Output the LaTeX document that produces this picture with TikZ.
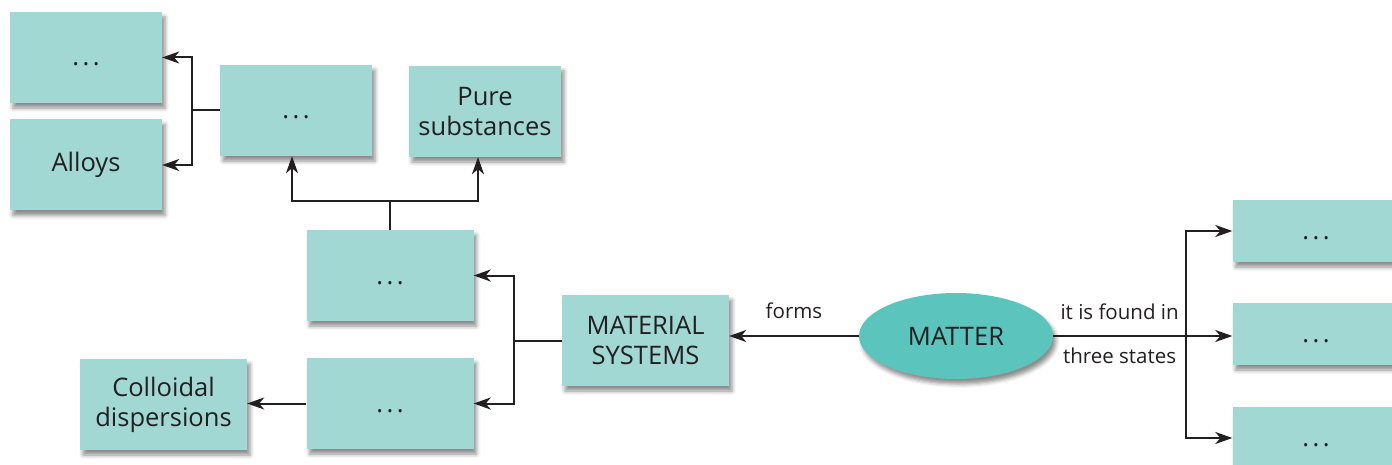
\documentclass[tikz,border=0pt]{standalone}
\usepackage{fontspec}
\setmainfont{Open Sans}
\usetikzlibrary{arrows.meta,shapes.geometric,shadows.blur}
\definecolor{boxfill}{HTML}{A1D8D4}
\definecolor{ovalfill}{HTML}{5BC4BC}
\definecolor{ink}{HTML}{231F20}
\newcommand{\gap}{.\hspace{3.5pt}.\hspace{3.5pt}.}
\begin{document}
\begin{tikzpicture}[x=1pt,y=-1pt,
  box/.style={fill=boxfill,minimum width=152pt,minimum height=91pt,align=center,text=ink,
    font=\fontsize{25.5}{30}\selectfont,
    blur shadow={shadow xshift=3pt,shadow yshift=-5pt,shadow blur radius=4pt,shadow opacity=45}},
  wide/.style={box,minimum width=167pt},
  slim/.style={wide,minimum height=62pt},
  blank/.style={text height=17pt,text depth=0pt},
  oval/.style={ellipse,fill=ovalfill,minimum width=194pt,minimum height=86pt,text=ink,
    font=\fontsize{25.5}{30}\selectfont,
    blur shadow={shadow xshift=3pt,shadow yshift=-5pt,shadow blur radius=4pt,shadow opacity=45}},
  lbl/.style={text=ink,font=\fontsize{20.5}{24}\selectfont},
  wire/.style={draw=ink,line width=2pt},
  arr/.style={wire,-{Stealth[length=17pt,width=12pt,inset=5pt]}}]
\useasboundingbox (0,0) rectangle (1392,465);
\clip (0,0) rectangle (1392,465);
\node[box,blank] (dots1) at (86,57.5) {\gap};
\node[box] (alloys) at (86,165) {Alloys};
\node[box,blank] (dots2) at (296,110.5) {\gap};
\node[box] (pure) at (485,111.5) {Pure\\substances};
\node[wide,blank] (dots3) at (390,275.5) {\gap};
\node[wide,blank] (dots4) at (390,403.5) {\gap};
\node[wide] (colloid) at (163.5,404.5) {Colloidal\\dispersions};
\node[wide] (msys) at (645.5,340.5) {MATERIAL\\SYSTEMS};
\node[oval] (matter) at (956,336) {MATTER};
\node[slim,blank] (state1) at (1316,231) {\gap};
\node[slim,blank] (state2) at (1316,334) {\gap};
\node[slim,blank] (state3) at (1316,438) {\gap};

\draw[arr] (matter.west) -- node[lbl,above=13pt] {forms} (matter.west -| msys.east);
\draw[wire] (msys.west) -- ++(-48,0) coordinate (j1);
\draw[arr] (j1) |- (dots3.east);
\draw[arr] (j1) |- (dots4.east);
\draw[arr] (dots4.west) -- (dots4.west -| colloid.east);
\draw[wire] (dots3.north) -- ++(0,-29) coordinate (j2);
\draw[arr] (j2) -| ([xshift=-4pt]dots2.south);
\draw[arr] (j2) -| ([xshift=-7pt]pure.south);
\draw[wire] (dots2.west) -- ++(-28,0) coordinate (j3);
\draw[arr] (j3) |- (dots1.east);
\draw[arr] (j3) |- (alloys.east);
\coordinate (j4) at (1186,336);
\draw[arr] (matter.east) -- node[lbl,above=12pt] {it is found in}
  node[lbl,below=8pt] {three states} (j4) -- (j4 -| state2.west);
\draw[arr] (j4) |- (state1.west);
\draw[arr] (j4) |- (state3.west);
\end{tikzpicture}
\end{document}
